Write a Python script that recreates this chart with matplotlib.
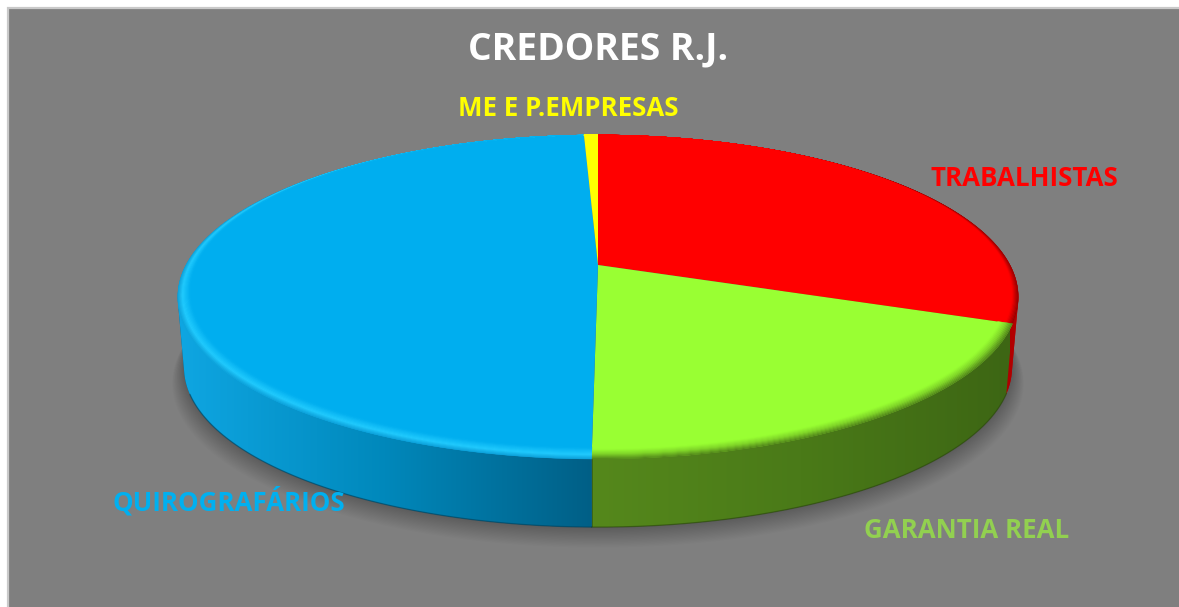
import numpy as np
import matplotlib
matplotlib.use("Agg")
import matplotlib.pyplot as plt
from matplotlib.colors import LinearSegmentedColormap, to_rgb
from matplotlib.patches import PathPatch, Rectangle
from matplotlib.path import Path
from matplotlib.transforms import Transform

# shares, clockwise from 12 o'clock
categories = ["TRABALHISTAS", "GARANTIA REAL", "QUIROGRAFÁRIOS", "ME E P.EMPRESAS"]
shares = [30.7, 19.5, 49.15, 0.65]
top_colors = ["#ff0000", "#99ff33", "#00aeef", "#ffff00"]
label_colors = ["#ff0000", "#92d050", "#00b0f0", "#ffff00"]
title = "CREDORES R.J."

W, H = 1179, 607
CX, CY = 598, 265   # where the slices meet, in pixels
K = 0.1975          # perspective of the tilted disc
A, B = 155.7, 412
DROP, BOTTOM_SCALE = 71, 0.985


class PieView(Transform):
    # maps the flat pie (unit circle) to pixels of the tilted disc
    input_dims = output_dims = 2

    def __init__(self, scale=1.0, drop=0.0):
        super().__init__()
        self.scale = scale
        self.drop = drop

    def transform_non_affine(self, values):
        x, y = np.asarray(values).T
        w = 1 + K * y
        return np.column_stack((CX + self.scale * B * x / w,
                                CY - self.scale * A * y / w + self.drop))


def mix(c1, c2, t):
    return tuple((1 - t) * np.array(to_rgb(c1)) + t * np.array(to_rgb(c2)))


def hull(points):
    # convex outline, so the wall runs straight between top and bottom rim
    pts = sorted(map(tuple, points))

    def half(seq):
        out = []
        for p in seq:
            while len(out) > 1 and ((out[-1][0] - out[-2][0]) * (p[1] - out[-2][1])
                                    - (out[-1][1] - out[-2][1]) * (p[0] - out[-2][0])) <= 0:
                out.pop()
            out.append(p)
        return out[:-1]

    return np.array(half(pts) + half(pts[::-1]))


fig = plt.figure(figsize=(W / 100, H / 100), dpi=100, facecolor="white")
ax = fig.add_axes([0, 0, 1, 1])
ax.set_axis_off()

ax.add_patch(Rectangle((7.5, 8), W, H, facecolor="#7f7f7f", edgecolor="#c9c9c9", lw=1.6, zorder=0))

# slice angles, math convention
edges = 90 - np.cumsum([0] + shares) * 3.6

# soft shadow below the disc
t = np.radians(np.linspace(0, 360, 361))
for s in np.linspace(0, 1, 18):
    view = PieView(BOTTOM_SCALE + 0.028 * s, DROP + 15 * s)
    ax.fill(np.cos(t), np.sin(t), color="black", alpha=0.014, lw=0,
            transform=view + ax.transData, zorder=1)

# side walls, each one a gradient clipped to its sector
top_view = PieView()
low_view = PieView(BOTTOM_SCALE, DROP)
walls = [
    (0, ["#a80000", "#b80000"], 1000, 1020),
    (1, ["#55881c", "#4a7a18", "#3d6614"], 593, 1010),
    (2, ["#0fa6e2", "#0088bb", "#005f86"], 178, 593),
]
for i, ramp, x0, x1 in walls:
    a = np.radians(np.linspace(edges[i], edges[i + 1], 200))
    pts_top = top_view.transform_non_affine(np.column_stack((np.cos(a), np.sin(a))))
    pts_low = low_view.transform_non_affine(np.column_stack((np.cos(a), np.sin(a))))
    corners = hull(np.vstack((pts_top, pts_low)))
    outline = Path(np.vstack((corners, corners[:1])), closed=True)
    patch = PathPatch(outline, facecolor=ramp[-1], lw=0, zorder=2)
    ax.add_patch(patch)
    cmap = LinearSegmentedColormap.from_list("wall", ramp)
    im = ax.imshow(np.linspace(0, 1, 256)[None, :], cmap=cmap, aspect="auto",
                   extent=(x0, x1, 540, 130), zorder=2.1)
    im.set_clip_path(patch)
    # darker line along the foot of the wall
    front = np.sin(a) < -0.35
    ax.plot(pts_low[front, 0], pts_low[front, 1], color=mix(ramp[-1], "black", 0.3),
            lw=0.9, alpha=0.6, zorder=2.2)

# top face
wedges, _ = ax.pie(shares, colors=top_colors, startangle=90, counterclock=False,
                   wedgeprops=dict(lw=0), radius=1)
for w in wedges:
    w.set_transform(top_view + ax.transData)
    w.set_zorder(3)

# bevel: bands along the rim, wide at the front and nothing at the back
rim_ramps = [
    [(0, "#8c0000"), (0.5, "#ff0000"), (1, "#ff0000")],
    [(0, "#4f7f1a"), (0.45, "#7fd428"), (0.85, "#99ff33"), (1, "#99ff33")],
    [(0, "#0e9fd8"), (0.4, "#22ccff"), (1, "#00aeef")],
    [(0, "#ffff00"), (1, "#ffff00")],
]
RIM = 0.05
bands = np.linspace(0, 1, 13)
for i, ramp in enumerate(rim_ramps):
    a = np.radians(np.linspace(edges[i], edges[i + 1], 160))
    pos, cols = zip(*ramp)
    for b0, b1 in zip(bands[:-1], bands[1:]):
        r0 = 1 - RIM * b0 * (1 - np.sin(a)) / 2
        r1 = 1 - RIM * b1 * (1 - np.sin(a)) / 2
        xs = np.r_[r0 * np.cos(a), (r1 * np.cos(a))[::-1]]
        ys = np.r_[r0 * np.sin(a), (r1 * np.sin(a))[::-1]]
        mid = (b0 + b1) / 2
        j = min(np.searchsorted(pos, mid, side="right") - 1, len(pos) - 2)
        col = mix(cols[j], cols[j + 1], (mid - pos[j]) / (pos[j + 1] - pos[j]))
        ax.fill(xs, ys, color=col, lw=0.3, transform=top_view + ax.transData, zorder=4)

ax.set_aspect("auto")
ax.set_xlim(0, W)
ax.set_ylim(H, 0)
ax.set_frame_on(False)
ax.set_xticks([])
ax.set_yticks([])

font = ["Open Sans", "DejaVu Sans"]
ax.text(598.5, 49.5, title, color="white", fontsize=26.8, fontweight="bold",
        family=font, ha="center", va="center", zorder=6)
label_xy = [(1024.5, 179), (966.5, 530), (228.5, 502), (568.5, 108)]
for name, col, (x, y) in zip(categories, label_colors, label_xy):
    ax.text(x, y, name, color=col, fontsize=18.6, fontweight="bold",
            family=font, ha="center", va="center", zorder=6)

fig.savefig("out.png", dpi=100, facecolor="white")
